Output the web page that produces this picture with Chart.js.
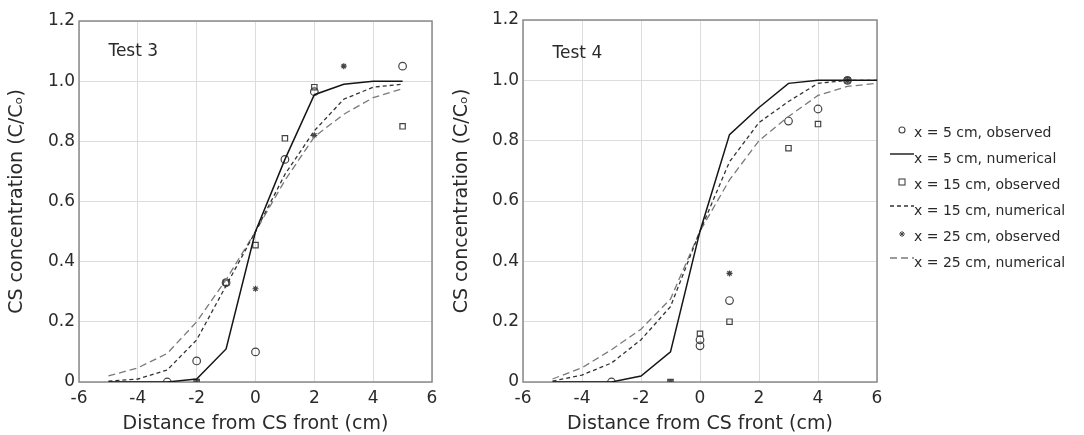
<!DOCTYPE html>
<html>
<head>
<meta charset="utf-8">
<script src="https://cdn.jsdelivr.net/npm/chart.js@4.4.1/dist/chart.umd.min.js"></script>
<style>
  body { margin: 0; background: #fff; width: 1084px; height: 435px; position: relative; overflow: hidden; font-family: 'DejaVu Sans', sans-serif; }
  .panel { position: absolute; top: 0; width: 445px; height: 435px; }
  #legend { position: absolute; left: 888px; top: 119px; font-size: 14px; color: #2a2a2a; }
  .row { height: 26px; display: flex; align-items: center; white-space: nowrap; }
  .row svg { width: 26px; height: 26px; flex: none; }
</style>
</head>
<body>
<div class="panel" style="left:0"><canvas id="test3" width="445" height="435"></canvas></div>
<div class="panel" style="left:445px"><canvas id="test4" width="445" height="435"></canvas></div>
<div id="legend"></div>
<script>
// Test 3 - numerical curves, distance from CS front (cm)
const t3LineX = [-5, -4, -3, -2, -1, 0, 1, 2, 3, 4, 5];
const t3Num5  = [0, 0, 0, 0.01, 0.11, 0.5, 0.74, 0.955, 0.99, 1.0, 1.0];
const t3Num15 = [0.003, 0.01, 0.04, 0.14, 0.32, 0.5, 0.69, 0.835, 0.94, 0.98, 0.99];
const t3Num25 = [0.02, 0.047, 0.095, 0.20, 0.34, 0.5, 0.67, 0.815, 0.89, 0.945, 0.975];

// Test 3 - observed
const t3Obs5X  = [-3, -2, -1, 0, 1, 2, 5];
const t3Obs5   = [0, 0.07, 0.33, 0.10, 0.74, 0.965, 1.05];
const t3Obs15X = [-2, -1, 0, 1, 2, 5];
const t3Obs15  = [0, 0.33, 0.455, 0.81, 0.98, 0.85];
const t3Obs25X = [-2, 0, 2, 3];
const t3Obs25  = [0, 0.31, 0.82, 1.05];

// Test 4 - numerical curves
const t4LineX = [-5, -4, -3, -2, -1, 0, 1, 2, 3, 4, 5, 6];
const t4Num5  = [0, 0, 0, 0.02, 0.10, 0.5, 0.82, 0.91, 0.99, 1.0, 1.0, 1.0];
const t4Num15 = [0.003, 0.023, 0.063, 0.14, 0.25, 0.5, 0.73, 0.86, 0.93, 0.99, 1.0, 1.0];
const t4Num25 = [0.01, 0.047, 0.107, 0.175, 0.275, 0.5, 0.67, 0.80, 0.88, 0.95, 0.98, 0.99];

// Test 4 - observed
const t4Obs5X  = [-3, 0, 0, 1, 3, 4, 5];
const t4Obs5   = [0, 0.14, 0.12, 0.27, 0.865, 0.905, 1.0];
const t4Obs15X = [-1, 0, 1, 3, 4, 5];
const t4Obs15  = [0, 0.16, 0.20, 0.775, 0.855, 1.0];
const t4Obs25X = [-1, 1, 5];
const t4Obs25  = [0, 0.36, 1.0];

const legendLabels = [
  'x = 5 cm, observed', 'x = 5 cm, numerical',
  'x = 15 cm, observed', 'x = 15 cm, numerical',
  'x = 25 cm, observed', 'x = 25 cm, numerical'
];

const textColor = '#2a2a2a';
const font = 'DejaVu Sans';

function pts(xs, ys) {
  return xs.map((x, i) => ({ x: x, y: ys[i] }));
}

function lineSet(xs, ys, color, dash, width) {
  return {
    data: pts(xs, ys),
    showLine: true,
    borderColor: color,
    borderWidth: width,
    borderDash: dash,
    pointRadius: 0,
    tension: 0
  };
}

function markSet(xs, ys, style, radius) {
  return {
    data: pts(xs, ys),
    showLine: false,
    pointStyle: style,
    pointRadius: radius,
    pointBorderColor: '#444',
    pointBackgroundColor: 'rgba(0,0,0,0)',
    pointBorderWidth: 1.2
  };
}

const framePlugin = {
  id: 'frame',
  beforeDatasetsDraw(chart) {
    const { ctx, chartArea } = chart;
    ctx.save();
    ctx.strokeStyle = '#8a8a8a';
    ctx.lineWidth = 1.5;
    ctx.strokeRect(chartArea.left, chartArea.top, chartArea.right - chartArea.left, chartArea.bottom - chartArea.top);
    ctx.restore();
  },
  afterDraw(chart, args, opts) {
    const { ctx, scales } = chart;
    ctx.save();
    ctx.fillStyle = textColor;
    ctx.font = '17px "' + font + '"';
    ctx.textAlign = 'left';
    ctx.textBaseline = 'middle';
    ctx.fillText(opts.text, scales.x.getPixelForValue(opts.x), scales.y.getPixelForValue(opts.y));
    ctx.restore();
  }
};

function makeChart(id, datasets, label, labelY, yWidth, top) {
  new Chart(document.getElementById(id), {
    type: 'scatter',
    data: { datasets: datasets },
    plugins: [framePlugin],
    options: {
      responsive: false,
      animation: false,
      events: [],
      layout: { padding: { top: top, right: 13, bottom: 0, left: 0 } },
      plugins: {
        legend: { display: false },
        tooltip: { enabled: false },
        frame: { text: label, x: -5, y: labelY }
      },
      scales: {
        x: {
          type: 'linear',
          min: -6,
          max: 6,
          afterFit: s => { s.height = 53; },
          ticks: { stepSize: 2, padding: 6, color: textColor, font: { family: font, size: 17 }, callback: v => String(v) },
          grid: { color: '#dcdcdc', drawTicks: false },
          border: { display: false },
          title: { display: true, text: 'Distance from CS front (cm)', color: textColor, font: { family: font, size: 19 }, padding: { top: 0, bottom: 0 } }
        },
        y: {
          min: 0,
          max: 1.2,
          afterFit: s => { s.width = yWidth; },
          ticks: { stepSize: 0.2, padding: 4, color: textColor, font: { family: font, size: 17 }, callback: v => v === 0 ? '0' : v.toFixed(1) },
          grid: { color: '#dcdcdc', drawTicks: false },
          border: { display: false },
          title: { display: true, text: 'CS concentration (C/Cₒ)', color: textColor, font: { family: font, size: 19 }, padding: { top: 6, bottom: 0 } }
        }
      }
    }
  });
}

makeChart('test3', [
  lineSet(t3LineX, t3Num5, '#151515', [], 1.5),
  lineSet(t3LineX, t3Num15, '#333', [4, 3], 1.3),
  lineSet(t3LineX, t3Num25, '#7a7a7a', [7, 4], 1.3),
  markSet(t3Obs5X, t3Obs5, 'circle', 3.8),
  markSet(t3Obs15X, t3Obs15, 'rect', 3.8),
  markSet(t3Obs25X, t3Obs25, 'star', 3)
], 'Test 3', 1.1, 79, 21);

makeChart('test4', [
  lineSet(t4LineX, t4Num5, '#151515', [], 1.5),
  lineSet(t4LineX, t4Num15, '#333', [4, 3], 1.3),
  lineSet(t4LineX, t4Num25, '#7a7a7a', [7, 4], 1.3),
  markSet(t4Obs5X, t4Obs5, 'circle', 3.8),
  markSet(t4Obs15X, t4Obs15, 'rect', 3.8),
  markSet(t4Obs25X, t4Obs25, 'star', 3)
], 'Test 4', 1.09, 78, 20);

// legend samples
const samples = [
  '<circle cx="14" cy="11" r="3" fill="none" stroke="#444" stroke-width="1.1"/>',
  '<line x1="2" y1="9" x2="26" y2="9" stroke="#151515" stroke-width="1.4"/>',
  '<rect x="11" y="8" width="6" height="6" fill="none" stroke="#444" stroke-width="1.1"/>',
  '<line x1="2" y1="9" x2="26" y2="9" stroke="#333" stroke-width="1.3" stroke-dasharray="4 3"/>',
  '<g stroke="#444" stroke-width="1"><line x1="14" y1="8" x2="14" y2="14"/><line x1="11" y1="11" x2="17" y2="11"/><line x1="12" y1="9" x2="16" y2="13"/><line x1="16" y1="9" x2="12" y2="13"/></g>',
  '<line x1="2" y1="9" x2="26" y2="9" stroke="#7a7a7a" stroke-width="1.3" stroke-dasharray="7 4"/>'
];
document.getElementById('legend').innerHTML = legendLabels.map((t, i) =>
  '<div class="row"><svg viewBox="0 0 26 26">' + samples[i] + '</svg><span>' + t + '</span></div>'
).join('');
</script>
</body>
</html>
